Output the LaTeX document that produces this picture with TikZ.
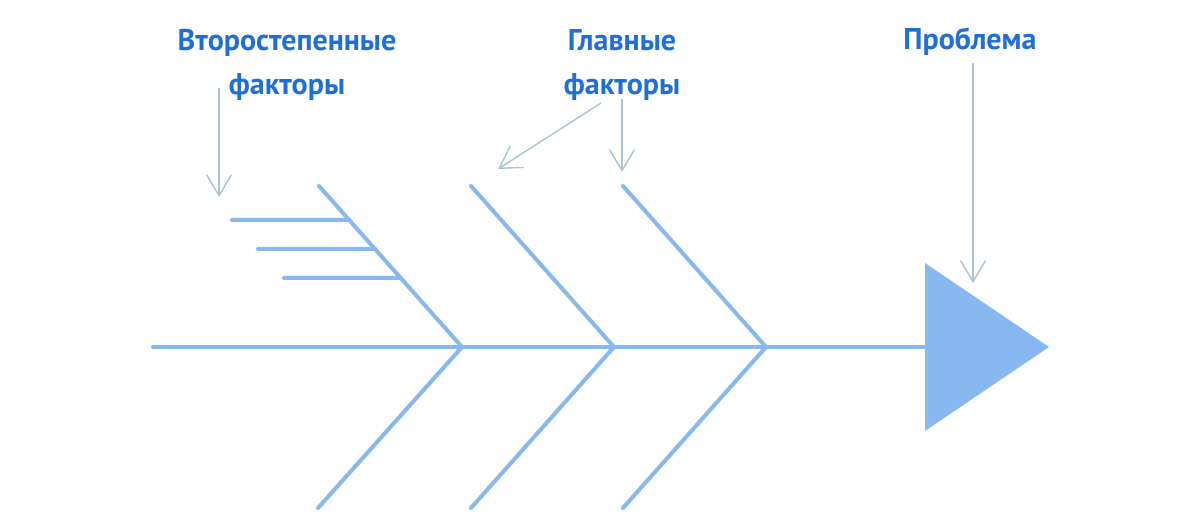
\documentclass[tikz,border=0pt]{standalone}
\usepackage{fontspec}
\setmainfont{PT Sans}
\usepackage{xcolor}
\usetikzlibrary{arrows.meta,positioning,calc}

\definecolor{labelblue}{HTML}{1F6FD8}
\definecolor{bonecol}{HTML}{88B8F0}
\definecolor{pointcol}{HTML}{A8C3D3}

\begin{document}
\begin{tikzpicture}[x=1pt, y=-1pt,
    bone/.style={bonecol, line width=4pt, line cap=round},
    pointer/.style={pointcol, line width=1.4pt, -{Straight Barb[length=21pt, width=25pt, line width=1.4pt]}},
    label/.style={labelblue, font=\fontsize{30}{36}\selectfont\bfseries, align=center, inner sep=0pt}]
  \useasboundingbox (0,0) rectangle (1200,526);

  % spine and head
  \coordinate (tail) at (153,347);
  \coordinate (j1) at (462,347);
  \coordinate (j2) at (614,347);
  \coordinate (j3) at (766,347);
  \coordinate (head) at (925,347);
  \fill[bonecol] (925,263) -- (1049,347) -- (925,431) -- cycle;
  \draw[bone] (tail) -- (head);

  % main bones
  \coordinate (t1) at (319,186);
  \coordinate (t2) at (471,186);
  \coordinate (t3) at (623,186);
  \coordinate (b1) at (318,508);
  \coordinate (b2) at (471,508);
  \coordinate (b3) at (623,508);
  \draw[bone] (t1) -- (j1) -- (b1);
  \draw[bone] (t2) -- (j2) -- (b2);
  \draw[bone] (t3) -- (j3) -- (b3);

  % secondary bones
  \draw[bone] (232,220) -- ($(t1)!0.211!(j1)$);
  \draw[bone] (258,249) -- ($(t1)!0.391!(j1)$);
  \draw[bone] (284,278) -- ($(t1)!0.571!(j1)$);

  % labels
  \node[label] (sec) at (287,65) {Второстепенные\\[8pt]факторы};
  \node[label] (main) at (622,65) {Главные\\[8pt]факторы};
  \node[label] (prob) at (970,42) {Проблема};

  % pointers
  \coordinate (s0) at (219,88);
  \coordinate (s1) at (219,197);
  \coordinate (m0) at (601,103);
  \coordinate (m1) at (498,169);
  \coordinate (m2) at (622,99);
  \coordinate (m3) at (622,172);
  \coordinate (p0) at (973,63);
  \coordinate (p1) at (973,283);
  \draw[pointer] (s0) -- (s1);
  \draw[pointer] (m0) -- (m1);
  \draw[pointer] (m2) -- (m3);
  \draw[pointer] (p0) -- (p1);
\end{tikzpicture}
\end{document}
